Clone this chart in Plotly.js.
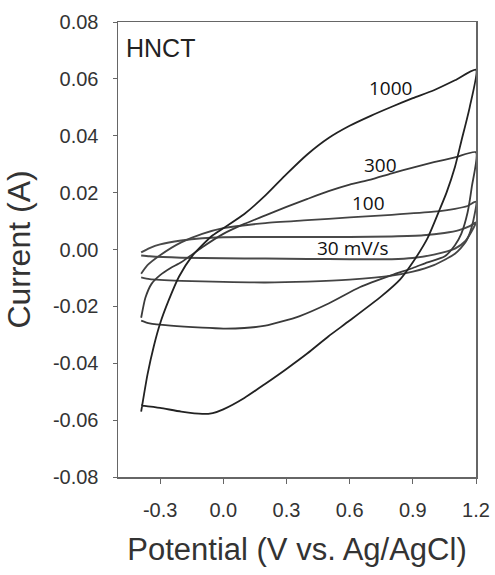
<!DOCTYPE html>
<html>
<head>
<meta charset="utf-8">
<script src="https://cdn.plot.ly/plotly-3.0.1.min.js"></script>
<style>html,body{margin:0;padding:0;background:#fff;}#chart{width:495px;height:575px;}</style>
</head>
<body>
<div id="chart"></div>
<script>
// 30 mV/s
var pot30Up = [-0.39,-0.35,-0.3,-0.2,-0.1,0.0,0.2,0.4,0.6,0.8,0.95,1.05,1.12,1.17,1.2];
var cur30Up = [-0.001,0.0005,0.0018,0.0032,0.004,0.0043,0.0044,0.0044,0.0044,0.0046,0.005,0.0058,0.0068,0.0082,0.0095];
var pot30Down = [1.2,1.18,1.15,1.1,1.0,0.9,0.8,0.6,0.4,0.2,0.0,-0.2,-0.35,-0.39];
var cur30Down = [0.0095,0.0065,0.003,0.0003,-0.0018,-0.003,-0.0034,-0.0034,-0.0033,-0.0032,-0.0031,-0.0029,-0.0024,-0.0021];
// 100 mV/s
var pot100Up = [-0.39,-0.36,-0.3,-0.2,-0.1,0.0,0.2,0.4,0.6,0.8,1.0,1.1,1.16,1.2];
var cur100Up = [-0.0085,-0.0055,-0.002,0.0025,0.0055,0.0075,0.0093,0.0103,0.0113,0.0122,0.0133,0.0143,0.0153,0.0168];
var pot100Down = [1.2,1.18,1.15,1.1,1.0,0.9,0.8,0.6,0.4,0.2,0.0,-0.2,-0.35,-0.39];
var cur100Down = [0.0168,0.008,0.0025,-0.0015,-0.0055,-0.0078,-0.0092,-0.0106,-0.0113,-0.0116,-0.0114,-0.011,-0.0104,-0.0098];
// 300 mV/s
var pot300Up = [-0.39,-0.37,-0.34,-0.3,-0.25,-0.2,-0.1,0.0,0.1,0.2,0.3,0.4,0.5,0.6,0.7,0.8,0.9,1.0,1.1,1.2];
var cur300Up = [-0.024,-0.017,-0.012,-0.009,-0.0065,-0.0045,0.0008,0.0055,0.009,0.012,0.015,0.0178,0.0205,0.0228,0.0246,0.0268,0.0288,0.0307,0.0324,0.0342];
var pot300Down = [1.2,1.18,1.16,1.13,1.1,1.05,0.97,0.9,0.8,0.65,0.5,0.36,0.2,0.1,0.0,-0.1,-0.25,-0.35,-0.39];
var cur300Down = [0.0342,0.022,0.013,0.0055,0.0015,-0.0025,-0.0045,-0.0065,-0.009,-0.0132,-0.019,-0.0235,-0.0268,-0.0276,-0.0278,-0.0275,-0.0268,-0.026,-0.025];
// 1000 mV/s
var pot1000Up = [-0.39,-0.36,-0.33,-0.3,-0.26,-0.21,-0.15,-0.1,-0.05,0.0,0.1,0.2,0.3,0.4,0.5,0.6,0.7,0.8,0.9,1.0,1.1,1.2];
var cur1000Up = [-0.057,-0.044,-0.034,-0.026,-0.018,-0.0095,-0.0025,0.0015,0.005,0.0075,0.0125,0.019,0.0265,0.0335,0.0392,0.0435,0.047,0.0502,0.0532,0.056,0.0595,0.0632];
var pot1000Down = [1.2,1.17,1.13,1.1,1.06,1.03,0.97,0.9,0.84,0.75,0.6,0.5,0.4,0.3,0.2,0.1,0.0,-0.05,-0.1,-0.2,-0.3,-0.39];
var cur1000Down = [0.0632,0.05,0.038,0.029,0.02,0.0145,0.004,-0.0045,-0.0105,-0.0165,-0.025,-0.0305,-0.0365,-0.042,-0.0472,-0.0522,-0.0562,-0.0575,-0.0578,-0.057,-0.0557,-0.0548];

var scanLabels = ['30 mV/s','100','300','1000'];
var labelX = [0.616,0.688,0.745,0.793];
var labelY = [0.0006,0.0163,0.0297,0.0568];
var xTicks = [-0.3,0.0,0.3,0.6,0.9,1.2];
var xTickText = ['-0.3','0.0','0.3','0.6','0.9','1.2'];
var yTicks = [-0.08,-0.06,-0.04,-0.02,0.0,0.02,0.04,0.06,0.08];
var yTickText = ['-0.08','-0.06','-0.04','-0.02','0.00','0.02','0.04','0.06','0.08'];

function loop(xu, yu, xd, yd, color, width) {
  return {
    x: xu.concat(xd.slice(1)), y: yu.concat(yd.slice(1)),
    type: 'scatter', mode: 'lines',
    line: {color: color, width: width, shape: 'spline', smoothing: 0.6},
    showlegend: false, hoverinfo: 'skip'
  };
}
var data = [
  loop(pot30Up, cur30Up, pot30Down, cur30Down, '#4a4a4a', 2),
  loop(pot100Up, cur100Up, pot100Down, cur100Down, '#444', 1.8),
  loop(pot300Up, cur300Up, pot300Down, cur300Down, '#3a3a3a', 1.8),
  loop(pot1000Up, cur1000Up, pot1000Down, cur1000Down, '#222', 1.8)
];

var annotations = scanLabels.map(function(t, i) {
  return {x: labelX[i], y: labelY[i], xref: 'x', yref: 'y', text: t, showarrow: false,
    font: {family: 'Open Sans, sans-serif', size: 19, color: '#111'}, xanchor: 'center', yanchor: 'middle'};
});
annotations.push({x: -0.296, y: 0.0709, xref: 'x', yref: 'y', text: 'HNCT', showarrow: false,
  font: {family: 'Liberation Sans, Arial, sans-serif', size: 25, color: '#222'}, xanchor: 'center', yanchor: 'middle'});

var layout = {
  width: 495, height: 575,
  margin: {l: 118, r: 19, t: 22, b: 98},
  paper_bgcolor: '#fff', plot_bgcolor: '#fff',
  font: {family: 'Liberation Sans, Arial, sans-serif', color: '#333'},
  xaxis: {
    range: [-0.5, 1.2], tickvals: xTicks, ticktext: xTickText,
    showgrid: false, zeroline: false, showline: true, mirror: true,
    linecolor: '#666', linewidth: 1.5, ticks: 'outside', ticklen: 5, tickcolor: '#666',
    tickfont: {size: 20, color: '#333'}, ticklabelstandoff: 9,
    title: {text: 'Potential (V vs. Ag/AgCl)', font: {size: 31, color: '#333'}, standoff: 19}
  },
  yaxis: {
    range: [-0.08, 0.08], tickvals: yTicks, ticktext: yTickText,
    showgrid: false, zeroline: false, showline: true, mirror: true,
    linecolor: '#666', linewidth: 1.5, ticks: 'outside', ticklen: 4, tickcolor: '#666',
    tickfont: {size: 20, color: '#333'}, ticklabelstandoff: 10,
    title: {text: 'Current (A)', font: {size: 32, color: '#333'}, standoff: 12}
  },
  annotations: annotations
};
Plotly.newPlot('chart', data, layout, {displayModeBar: false, staticPlot: true});
</script>
</body>
</html>
